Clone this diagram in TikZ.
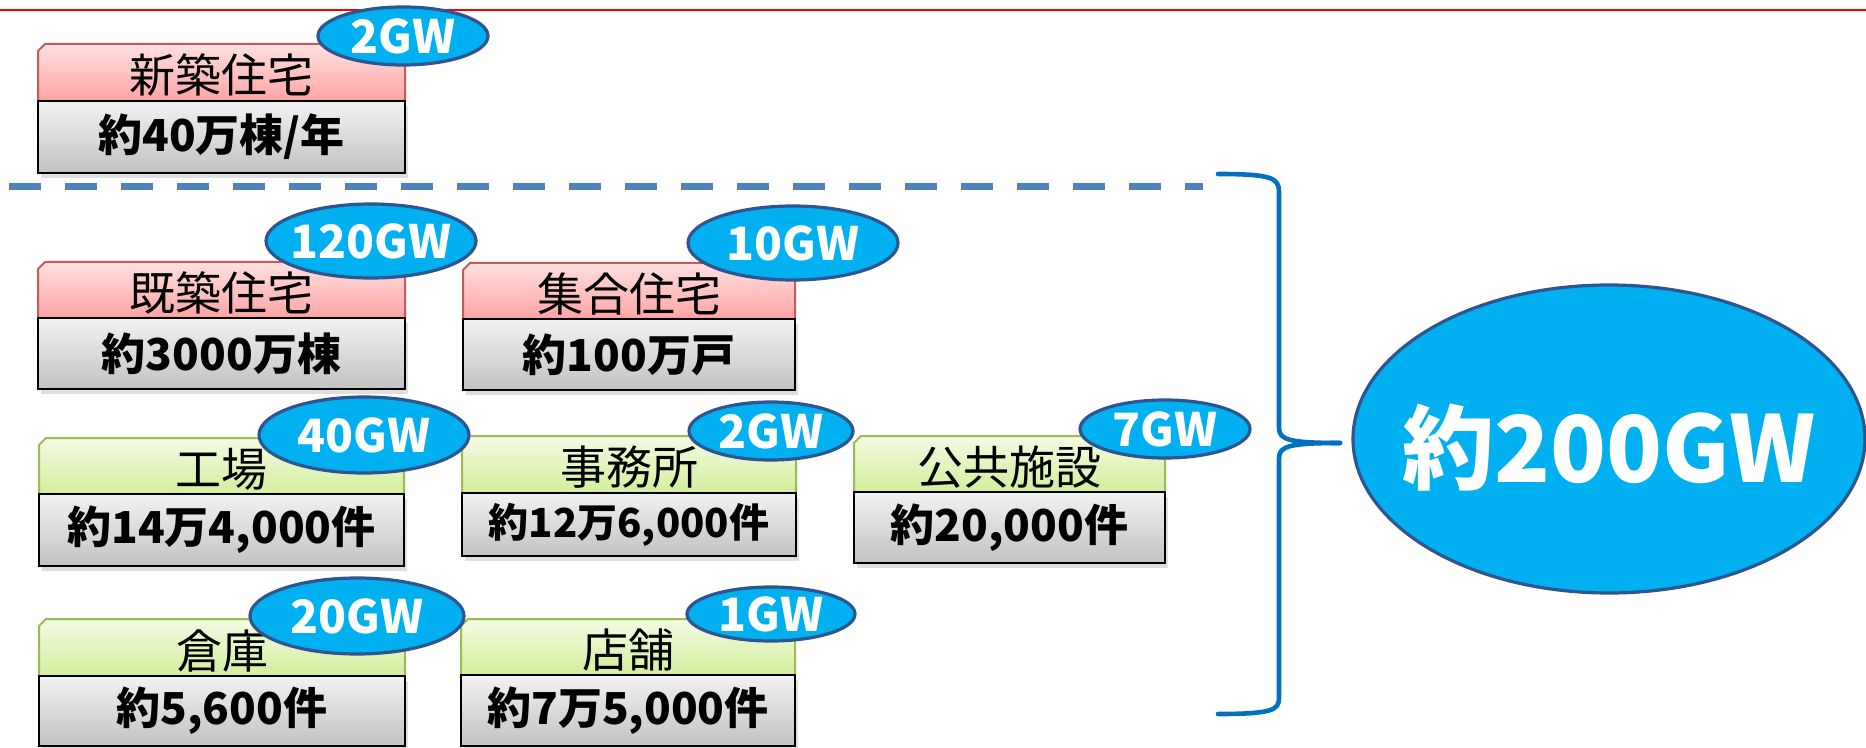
\documentclass[tikz,border=0pt]{standalone}
\usepackage{fontspec}
\newfontfamily\jp{Noto Sans CJK JP}
\usetikzlibrary{shapes.geometric,shadows}
\definecolor{pinkT}{HTML}{FFE0E0}
\definecolor{pinkB}{HTML}{FFA4A4}
\definecolor{pinkL}{HTML}{C8585A}
\definecolor{grnT}{HTML}{F4FBE4}
\definecolor{grnB}{HTML}{D2EE9C}
\definecolor{grnL}{HTML}{9BBB59}
\definecolor{grayT}{HTML}{F2F2F2}
\definecolor{grayB}{HTML}{C2C2C2}
\definecolor{cyanF}{HTML}{00B0F0}
\definecolor{ellL}{HTML}{2E5590}
\definecolor{dashC}{HTML}{4F81BD}
\definecolor{braceC}{HTML}{0070C0}
\tikzset{
  hdrred/.style={top color=pinkT, bottom color=pinkB, draw=pinkL, line width=1pt},
  hdrgreen/.style={top color=grnT, bottom color=grnB, draw=grnL, line width=1pt},
  bodyshade/.style={top color=grayT, bottom color=grayB, draw=black, line width=1.2pt,
    drop shadow={opacity=0.25, shadow xshift=1.5pt, shadow yshift=-2.5pt}},
  hdrtext/.style={font=\jp\fontsize{23}{27}\selectfont, text=black, inner sep=0pt},
  bodytext/.style={font=\jp\bfseries\fontsize{22}{26}\selectfont, text=black, inner sep=0pt},
  gwell/.style={ellipse, fill=cyanF, draw=ellL, line width=1.6pt, inner sep=0pt,
    text height=0pt, text depth=0pt,
    text=white, font=\jp\bfseries\fontsize{23}{27}\selectfont},
  bigell/.style={gwell, font=\jp\bfseries\fontsize{46}{52}\selectfont},
  sepline/.style={dashC, line width=3.5pt, dash pattern=on 15.8pt off 12.2pt},
  bracestyle/.style={braceC, line width=2.3pt, line cap=round},
}
% text centred in an ellipse without enlarging it
\newcommand\gwtxt[2][-0.37em]{\makebox[0pt]{\raisebox{#1}{#2}}}
% name, x1, y1(top), ydiv, x2, y2(bottom), header style, header text, body text
\newcommand\catbox[9]{%
  \shade[#7] (#2,#4) -- (#2,{#3+7}) -- ({#2+7},#3) -- (#5,#3) -- (#5,#4) -- cycle;
  \shade[bodyshade] (#2,#4) rectangle (#5,#6);
  \node[hdrtext] (#1h) at ({(#2+#5)/2},{(#3+#4)/2+3}) {#8};
  \node[bodytext] (#1b) at ({(#2+#5)/2},{(#4+#6)/2}) {#9};
}
\begin{document}
\begin{tikzpicture}[x=0.5pt,y=-0.5pt]
\useasboundingbox (0,0) rectangle (1866,748);
\fill[white] (0,0) rectangle (1866,748);
% top red rule
\draw[red, line width=1pt] (0,10) -- (1866,10);
% separator
\coordinate (sepL) at (9,187);
\coordinate (sepR) at (1203,187);
\draw[sepline] (sepL) -- (sepR);
% boxes
\catbox{shin}{38}{44}{101}{405}{173}{hdrred}{新築住宅}{約40万棟/年}
\catbox{kichi}{38}{262}{318}{405}{389}{hdrred}{既築住宅}{約3000万棟}
\catbox{shugo}{463}{263}{319}{795}{390}{hdrred}{集合住宅}{約100万戸}
\catbox{kojo}{39}{438}{494}{404}{566}{hdrgreen}{工場}{約14万4,000件}
\catbox{jimu}{462}{436}{493}{796}{556}{hdrgreen}{事務所}{{\fontsize{20}{24}\selectfont 約12万6,000件}}
\catbox{koky}{854}{436}{492}{1165}{563}{hdrgreen}{公共施設}{約20,000件}
\catbox{soko}{39}{619}{676}{405}{746}{hdrgreen}{倉庫}{約5,600件}
\catbox{tenp}{461}{619}{675}{795}{746}{hdrgreen}{店舗}{約7万5,000件}
% GW ellipses
\node[gwell, minimum width=85pt, minimum height=29pt] (g1) at (403,36) {\gwtxt{2GW}};
\node[gwell, minimum width=105pt, minimum height=37pt] (g2) at (371,241) {\gwtxt{120GW}};
\node[gwell, minimum width=105pt, minimum height=37pt] (g3) at (793,243) {\gwtxt{10GW}};
\node[gwell, minimum width=105pt, minimum height=38pt] (g4) at (364,435) {\gwtxt{40GW}};
\node[gwell, minimum width=82pt, minimum height=29pt] (g5) at (771,431) {\gwtxt{2GW}};
\node[gwell, minimum width=85pt, minimum height=29pt] (g6) at (1165,429) {\gwtxt{7GW}};
\node[gwell, minimum width=107pt, minimum height=38pt] (g7) at (357,616) {\gwtxt{20GW}};
\node[gwell, minimum width=84pt, minimum height=27pt] (g8) at (771,614) {\gwtxt{1GW}};
% brace
\draw[bracestyle] (1218,174) .. controls (1272,174) and (1279,178) .. (1279,192)
  -- (1279,428) .. controls (1279,440) and (1290,443) .. (1340,443);
\draw[bracestyle] (1340,443) .. controls (1290,443) and (1279,446) .. (1279,458)
  -- (1279,698) .. controls (1279,710) and (1272,714) .. (1218,714);
% total
\node[bigell, minimum width=256pt, minimum height=154pt] (tot) at (1609,439) {\gwtxt[-0.47em]{約200GW}};
\end{tikzpicture}
\end{document}
